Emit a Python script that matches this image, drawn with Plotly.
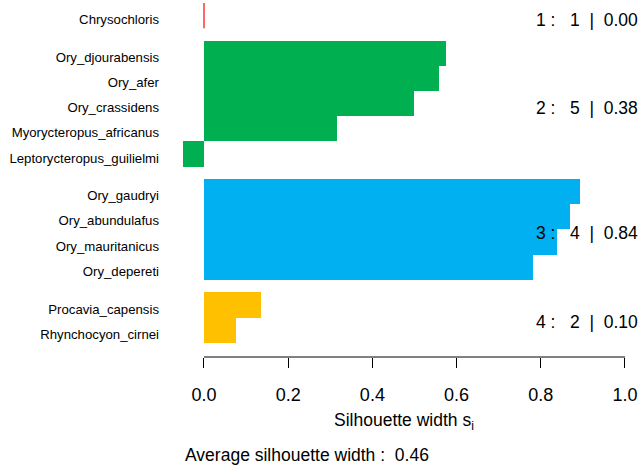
import plotly.graph_objects as go

# ---- data ----
names = ["Chrysochloris",
         "Ory_djourabensis", "Ory_afer", "Ory_crassidens", "Myorycteropus_africanus", "Leptorycteropus_guilielmi",
         "Ory_gaudryi", "Ory_abundulafus", "Ory_mauritanicus", "Ory_depereti",
         "Procavia_capensis", "Rhynchocyon_cirnei"]
cluster = [1, 2, 2, 2, 2, 2, 3, 3, 3, 3, 4, 4]
sil = [0.0,
       0.575, 0.558, 0.499, 0.315, -0.050,
       0.893, 0.869, 0.838, 0.781,
       0.135, 0.076]
cluster_ids = [1, 2, 3, 4]
cluster_sizes = [1, 5, 4, 2]
cluster_avg = ["0.00", "0.38", "0.84", "0.10"]
avg_width = "0.46"
cluster_colors = {1: "#FF0000", 2: "#00B050", 3: "#00B0F0", 4: "#FFC000"}
xticks = [0.0, 0.2, 0.4, 0.6, 0.8, 1.0]

# ---- bar positions: 1 unit per bar, 0.5 gap between clusters ----
pos = []
for i, c in enumerate(cluster):
    pos.append(i + 0.5 + 0.5 * (c - 1))

FONT = "Liberation Sans, Arial, sans-serif"
fig = go.Figure()
colors = [cluster_colors[c] for c in cluster]
fig.add_trace(go.Bar(
    x=sil, y=pos, orientation="h", width=1.0,
    marker=dict(color=colors, line=dict(color=colors, width=0)),
    showlegend=False, hoverinfo="skip"))

# zero-width silhouettes drawn as a line (bar border)
for v, p, c in zip(sil, pos, cluster):
    if v == 0:
        fig.add_trace(go.Scatter(x=[v, v], y=[p - 0.5, p + 0.5], mode="lines",
                                 line=dict(color=cluster_colors[c], width=1.2),
                                 showlegend=False, hoverinfo="skip"))

# cluster summaries on the right
for cid, n, a in zip(cluster_ids, cluster_sizes, cluster_avg):
    ps = [p for p, c in zip(pos, cluster) if c == cid]
    mid = sum(ps) / len(ps)
    fig.add_annotation(x=1, xref="paper", y=mid, yref="y", xanchor="right", yanchor="middle",
                       text=f"{cid} :\u00a0\u00a0\u00a0{n}\u00a0\u00a0|\u00a0\u00a0{a}",
                       showarrow=False, xshift=-2, yshift=-4,
                       font=dict(family=FONT, size=17.5, color="black"))

# x axis line from 0 to 1
fig.add_shape(type="line", xref="x", yref="paper", x0=xticks[0], x1=xticks[-1], y0=0, y1=0,
              line=dict(color="black", width=1))

fig.add_annotation(x=0.501, xref="paper", y=-0.1737, yref="paper", xanchor="center", yanchor="middle",
                   text="Silhouette width s<sub>i</sub>", showarrow=False, yshift=-2,
                   font=dict(family=FONT, size=17.5, color="black"))
fig.add_annotation(x=0.0377, xref="paper", y=-0.2717, yref="paper", xanchor="left", yanchor="middle",
                   text=f"Average silhouette width :\u00a0\u00a0{avg_width}", showarrow=False, yshift=-1,
                   font=dict(family=FONT, size=17.5, color="black"))

fig.update_layout(
    width=642, height=469,
    margin=dict(l=165, r=0, t=0, b=112),
    plot_bgcolor="white", paper_bgcolor="white",
    bargap=0,
    font=dict(family=FONT, color="black"),
    xaxis=dict(range=[-0.0926, 1.0404], tickvals=xticks, tickformat=".1f",
               ticks="outside", ticklen=10, tickcolor="black", tickwidth=1,
               showline=False, showgrid=False, zeroline=False,
               tickfont=dict(family=FONT, size=18, color="black"),
               ticklabelstandoff=11),
    yaxis=dict(range=[14.07, -0.12], tickvals=pos, ticktext=names, ticks="",
               showline=False, showgrid=False, zeroline=False,
               tickfont=dict(family=FONT, size=13.2, color="black"),
               ticklabelstandoff=5, ticklabelshift=-4),
)

fig.write_html("out.html", config={"displayModeBar": False},
               post_script="document.body.style.margin='0';")
